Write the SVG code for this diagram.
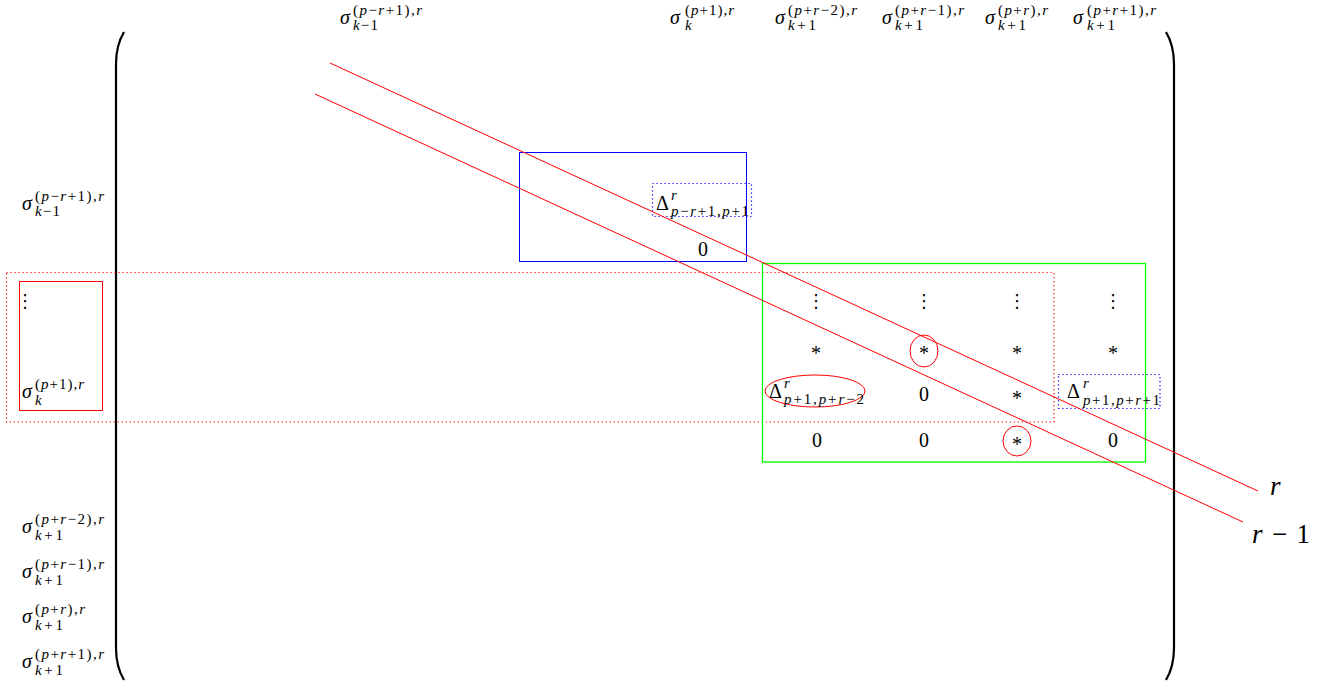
<svg xmlns="http://www.w3.org/2000/svg" width="1326" height="686" viewBox="0 0 1326 686">
<style>
.t{font-family:"Liberation Serif","DejaVu Serif",serif;font-size:20px;fill:#000}
.i{font-style:italic}
.s{font-size:15px}
.big{font-size:27px}
.c{text-anchor:middle}
.ast{font-family:"Liberation Serif","DejaVu Serif",serif;font-size:20px;text-anchor:middle;fill:#000}
.dots{font-family:"DejaVu Sans",sans-serif;font-size:18px;text-anchor:middle;fill:#000}
.red{fill:none;stroke:#f00;stroke-width:1}
.rdot{fill:none;stroke:#f00;stroke-width:1.2;stroke-dasharray:1.2 2.8}
.blue{fill:none;stroke:#00f;stroke-width:1}
.bdot{fill:none;stroke:#00f;stroke-width:1.2;stroke-dasharray:1.2 2.8}
.green{fill:none;stroke:#0f0;stroke-width:1.3}
.paren{fill:none;stroke:#000;stroke-width:2.2}
</style>
<rect width="1326" height="686" fill="#fff"/>

<g id="matrix-brackets">
<path class="paren" d="M124,32 C118,42 116,52 116,64 L116,648 C116,660 118,670 124,680"/>
<path class="paren" d="M1166,32 C1172,42 1174,52 1174,64 L1174,648 C1174,660 1172,670 1166,680"/>
</g>

<g id="column-labels">
<g id="col-1">
<text class="t i" x="340" y="24">σ</text>
<text class="t s" x="353" y="15" textLength="69" lengthAdjust="spacing">(<tspan class="i">p</tspan>−<tspan class="i">r</tspan>+1),<tspan class="i">r</tspan></text>
<text class="t s" x="353" y="30" textLength="25" lengthAdjust="spacing"><tspan class="i">k</tspan>−1</text>
</g>
<g id="col-2">
<text class="t i" x="670" y="24">σ</text>
<text class="t s" x="685" y="15" textLength="49" lengthAdjust="spacing">(<tspan class="i">p</tspan>+1),<tspan class="i">r</tspan></text>
<text class="t s i" x="685" y="30">k</text>
</g>
<g id="col-3">
<text class="t i" x="775" y="24">σ</text>
<text class="t s" x="788" y="15" textLength="69" lengthAdjust="spacing">(<tspan class="i">p</tspan>+<tspan class="i">r</tspan>−2),<tspan class="i">r</tspan></text>
<text class="t s" x="788" y="30" textLength="28" lengthAdjust="spacing"><tspan class="i">k</tspan>+1</text>
</g>
<g id="col-4">
<text class="t i" x="882" y="24">σ</text>
<text class="t s" x="895" y="15" textLength="69" lengthAdjust="spacing">(<tspan class="i">p</tspan>+<tspan class="i">r</tspan>−1),<tspan class="i">r</tspan></text>
<text class="t s" x="895" y="30" textLength="28" lengthAdjust="spacing"><tspan class="i">k</tspan>+1</text>
</g>
<g id="col-5">
<text class="t i" x="985" y="24">σ</text>
<text class="t s" x="998" y="15" textLength="50" lengthAdjust="spacing">(<tspan class="i">p</tspan>+<tspan class="i">r</tspan>),<tspan class="i">r</tspan></text>
<text class="t s" x="998" y="30" textLength="28" lengthAdjust="spacing"><tspan class="i">k</tspan>+1</text>
</g>
<g id="col-6">
<text class="t i" x="1073" y="24">σ</text>
<text class="t s" x="1087" y="15" textLength="69" lengthAdjust="spacing">(<tspan class="i">p</tspan>+<tspan class="i">r</tspan>+1),<tspan class="i">r</tspan></text>
<text class="t s" x="1087" y="30" textLength="28" lengthAdjust="spacing"><tspan class="i">k</tspan>+1</text>
</g>
</g>

<g id="row-labels">
<g id="row-1">
<text class="t i" x="22" y="210">σ</text>
<text class="t s" x="35" y="201" textLength="69" lengthAdjust="spacing">(<tspan class="i">p</tspan>−<tspan class="i">r</tspan>+1),<tspan class="i">r</tspan></text>
<text class="t s" x="35" y="216" textLength="25" lengthAdjust="spacing"><tspan class="i">k</tspan>−1</text>
</g>
<g id="row-3">
<text class="t i" x="22" y="533">σ</text>
<text class="t s" x="35" y="524" textLength="69" lengthAdjust="spacing">(<tspan class="i">p</tspan>+<tspan class="i">r</tspan>−2),<tspan class="i">r</tspan></text>
<text class="t s" x="35" y="540" textLength="28" lengthAdjust="spacing"><tspan class="i">k</tspan>+1</text>
</g>
<g id="row-4">
<text class="t i" x="22" y="578">σ</text>
<text class="t s" x="35" y="569" textLength="69" lengthAdjust="spacing">(<tspan class="i">p</tspan>+<tspan class="i">r</tspan>−1),<tspan class="i">r</tspan></text>
<text class="t s" x="35" y="585" textLength="28" lengthAdjust="spacing"><tspan class="i">k</tspan>+1</text>
</g>
<g id="row-5">
<text class="t i" x="22" y="623">σ</text>
<text class="t s" x="35" y="614" textLength="50" lengthAdjust="spacing">(<tspan class="i">p</tspan>+<tspan class="i">r</tspan>),<tspan class="i">r</tspan></text>
<text class="t s" x="35" y="630" textLength="28" lengthAdjust="spacing"><tspan class="i">k</tspan>+1</text>
</g>
<g id="row-6">
<text class="t i" x="22" y="668">σ</text>
<text class="t s" x="35" y="659" textLength="69" lengthAdjust="spacing">(<tspan class="i">p</tspan>+<tspan class="i">r</tspan>+1),<tspan class="i">r</tspan></text>
<text class="t s" x="35" y="675" textLength="28" lengthAdjust="spacing"><tspan class="i">k</tspan>+1</text>
</g>
</g>

<g id="row-band">
<rect class="rdot" x="6.5" y="272.5" width="1047.5" height="149.5"/>
</g>

<g id="left-box">
<rect class="red" x="19.5" y="281.5" width="83" height="129"/>
<text class="dots" x="25" y="307">⋮</text>
<text class="t i" x="22" y="398">σ</text>
<text class="t s" x="35" y="389" textLength="49" lengthAdjust="spacing">(<tspan class="i">p</tspan>+1),<tspan class="i">r</tspan></text>
<text class="t s i" x="35" y="405">k</text>
</g>

<g id="blue-block">
<rect class="blue" x="519.5" y="152.5" width="227" height="109"/>
<rect class="bdot" x="652.5" y="183.5" width="99" height="33"/>
<text class="t" x="656" y="210">Δ</text>
<text class="t s i" x="671" y="200">r</text>
<text class="t s" x="671" y="216" textLength="78" lengthAdjust="spacing"><tspan class="i">p</tspan>−<tspan class="i">r</tspan>+1,<tspan class="i">p</tspan>+1</text>
<text class="t c" x="703" y="256">0</text>
</g>

<g id="green-block">
<rect class="green" x="762.5" y="263.5" width="383" height="198.5"/>
<text class="dots" x="816" y="307">⋮</text>
<text class="dots" x="924" y="307">⋮</text>
<text class="dots" x="1017" y="307">⋮</text>
<text class="dots" x="1113" y="307">⋮</text>
<text class="ast" x="816" y="360">*</text>
<text class="ast" x="924" y="360">*</text>
<text class="ast" x="1017" y="360">*</text>
<text class="ast" x="1113" y="360">*</text>
<text class="t c" x="924" y="401">0</text>
<text class="ast" x="1017" y="405">*</text>
<text class="t c" x="817" y="447">0</text>
<text class="t c" x="924" y="447">0</text>
<text class="ast" x="1017" y="451">*</text>
<text class="t c" x="1113" y="447">0</text>
</g>

<g id="circled-a">
<ellipse class="red" cx="924" cy="351" rx="14" ry="16"/>
</g>
<g id="circled-b">
<ellipse class="red" cx="1017" cy="441" rx="14" ry="15"/>
</g>

<g id="delta-ellipse">
<ellipse class="red" cx="815" cy="391" rx="50" ry="16"/>
<text class="t" x="769" y="398">Δ</text>
<text class="t s i" x="784" y="388">r</text>
<text class="t s" x="784" y="404" textLength="80" lengthAdjust="spacing"><tspan class="i">p</tspan>+1,<tspan class="i">p</tspan>+<tspan class="i">r</tspan>−2</text>
</g>

<g id="delta-right">
<rect class="bdot" x="1058.5" y="374.5" width="101.5" height="34"/>
<text class="t" x="1067" y="398">Δ</text>
<text class="t s i" x="1083" y="388">r</text>
<text class="t s" x="1083" y="405" textLength="77" lengthAdjust="spacing"><tspan class="i">p</tspan>+1,<tspan class="i">p</tspan>+<tspan class="i">r</tspan>+1</text>
</g>

<g id="connectors">
<line class="red" x1="330" y1="63" x2="1258" y2="491"/>
<line class="red" x1="315" y1="94" x2="1243" y2="522"/>
</g>
<g id="line-labels">
<text class="t big i" x="1270" y="495">r</text>
<text class="t big" x="1252" y="543" textLength="58" lengthAdjust="spacing"><tspan class="i">r</tspan> − 1</text>
</g>
</svg>
